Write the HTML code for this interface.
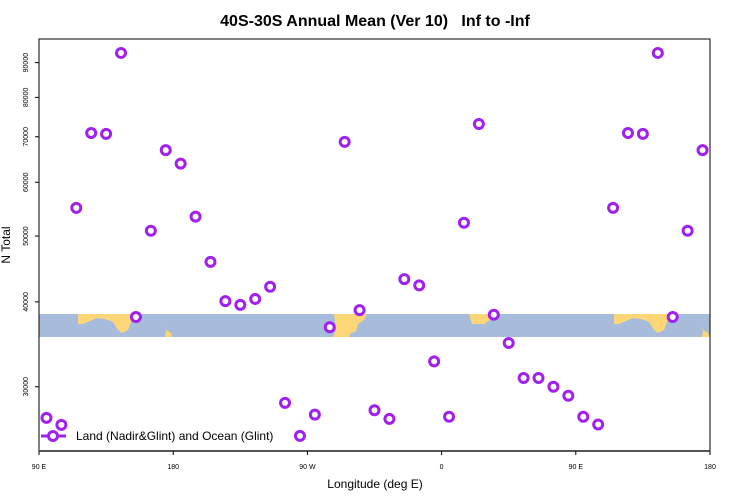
<!DOCTYPE html>
<html><head><meta charset="utf-8"><style>
body{margin:0;background:#fff;}
svg{display:block;font-family:"Liberation Sans",sans-serif;}
</style></head><body>
<svg id="chart" width="750" height="500" viewBox="0 0 750 500">
<text x="375" y="26" text-anchor="middle" font-size="16" font-weight="bold" style="white-space:pre">40S-30S Annual Mean (Ver 10)   Inf to -Inf</text>
<g>
<rect x="39" y="314" width="671" height="23" fill="#a7bcdb"/>
<g fill="#fdd777">
<path d="M78,314 L132,314 L131,322 L128,330 L122,333 L118,330 L113,322 L105,319 L97,318 L90,321 L83,324 L78,324 Z"/>
<path d="M163,325 L166,330 L171,333 L172,337 L165,337 L166,331 Z"/>
<path d="M334,314 L367,314 L364,320 L358,324 L356,331 L350,334 L349,337 L333,337 L336,330 Z"/>
<path d="M469,314 L493,314 L490,320 L484,324 L472,324 Z"/>
<path d="M614,314 L668,314 L667,322 L664,330 L658,333 L654,330 L649,322 L641,319 L633,318 L626,321 L619,324 L614,324 Z"/>
<path d="M700,325 L703,330 L708,333 L710,337 L702,337 L703,331 Z"/>
</g>
</g>
<rect x="39" y="39" width="671" height="412" fill="none" stroke="#000" stroke-width="1"/>
<line x1="39" y1="451" x2="710" y2="451" stroke="#555" stroke-width="2"/>
<g id="yticks"></g>
<g id="xticks"></g>
<text x="10" y="245" transform="rotate(-90 10 245)" text-anchor="middle" font-size="12">N Total</text>
<text x="375" y="488" text-anchor="middle" font-size="12">Longitude (deg E)</text>
<g id="points"></g>
<g>
<line x1="41" y1="436" x2="66" y2="436" stroke="#a020f0" stroke-width="3"/>
<circle cx="53" cy="436" r="4.5" fill="#fff" stroke="#a020f0" stroke-width="3"/>
<text x="76" y="440" font-size="12">Land (Nadir&amp;Glint) and Ocean (Glint)</text>
</g>
</svg>
<script>
const longitudes = [95,105,115,125,135,145,155,165,175,185,195,205,215,225,235,245,255,265,275,285,295,305,315,325,335,345,355,365,375,385,395,405,415,425,435,445,455,465,475,485,495,505,515,525,535];
const nTotal = [27000,26360,55000,70900,70700,93000,38000,50900,66900,63900,53400,45800,40100,39600,40400,42100,28400,25400,27300,36700,68800,38900,27700,26900,43200,42300,32700,27100,52300,73100,38300,34800,30900,30900,30000,29100,27100,26400,55000,70900,70700,93000,38000,50900,66900];
const yTickValues = [30000,40000,50000,60000,70000,80000,90000];
const xTickValues = [90,180,270,360,450,540];
const xTickLabels = ["90 E","180","90 W","0","90 E","180"];
const NS="http://www.w3.org/2000/svg";
const X0=39,X1=710,Y0=451,Y1=39;
const lonMin=90,lonMax=540, vMin=24130, vMax=97500;
function xs(l){return X0+(l-lonMin)/(lonMax-lonMin)*(X1-X0);}
function ys(v){return Y0-(Math.log(v)-Math.log(vMin))/(Math.log(vMax)-Math.log(vMin))*(Y0-Y1);}
const yg=document.getElementById('yticks');
yTickValues.forEach(v=>{
  const y=ys(v);
  const t=document.createElementNS(NS,'line');
  t.setAttribute('x1',35);t.setAttribute('x2',39);t.setAttribute('y1',y);t.setAttribute('y2',y);t.setAttribute('stroke','#000');
  
  
  yg.appendChild(t);
  const tx=document.createElementNS(NS,'text');
  tx.setAttribute('x',28);tx.setAttribute('y',y);tx.setAttribute('font-size','7');tx.setAttribute('text-anchor','middle');
  tx.setAttribute('transform','rotate(-90 28 '+y+')');
  tx.textContent=v;
  
  
  yg.appendChild(tx);
});
const xg=document.getElementById('xticks');
xTickValues.forEach((l,i)=>{
  const x=xs(l);
  const t=document.createElementNS(NS,'line');
  t.setAttribute('x1',x);t.setAttribute('x2',x);t.setAttribute('y1',451);t.setAttribute('y2',455);t.setAttribute('stroke','#000');
  
  
  xg.appendChild(t);
  const tx=document.createElementNS(NS,'text');
  tx.setAttribute('x',x);tx.setAttribute('y',469);tx.setAttribute('font-size','7');tx.setAttribute('text-anchor','middle');
  tx.textContent=xTickLabels[i];
  
  
  xg.appendChild(tx);
});
const pg=document.getElementById('points');
longitudes.forEach((l,i)=>{
  const c=document.createElementNS(NS,'circle');
  c.setAttribute('cx',xs(l));c.setAttribute('cy',ys(nTotal[i]));c.setAttribute('r',4.5);
  c.setAttribute('fill','#fff');c.setAttribute('stroke','#a020f0');c.setAttribute('stroke-width',3);
  
  
  pg.appendChild(c);
});
</script>
</body></html>
